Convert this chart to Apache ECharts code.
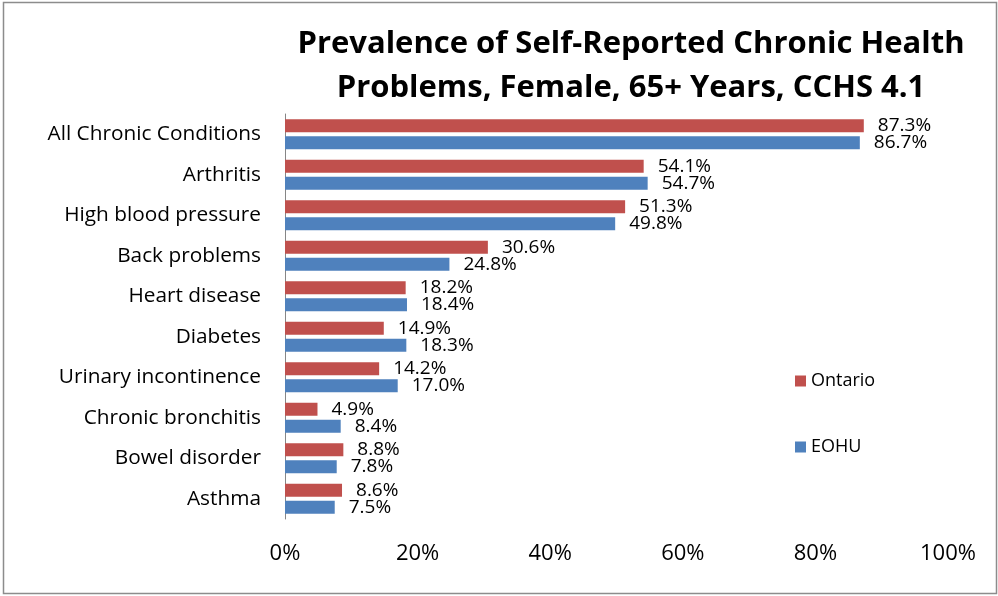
<!DOCTYPE html>
<html>
<head>
<meta charset="utf-8">
<script src="https://cdn.jsdelivr.net/npm/echarts@6/dist/echarts.min.js"></script>
<style>
  html, body { margin: 0; padding: 0; background: #fff; }
  #chart { width: 998px; height: 596px; }
</style>
</head>
<body>
<div id="chart"></div>
<script>
// Chronic conditions, top to bottom
const categories = [
  'All Chronic Conditions', 'Arthritis', 'High blood pressure', 'Back problems',
  'Heart disease', 'Diabetes', 'Urinary incontinence', 'Chronic bronchitis',
  'Bowel disorder', 'Asthma'
];
// Prevalence (%) by region
const ontario = [87.3, 54.1, 51.3, 30.6, 18.2, 14.9, 14.2, 4.9, 8.8, 8.6];
const eohu    = [86.7, 54.7, 49.8, 24.8, 18.4, 18.3, 17.0, 8.4, 7.8, 7.5];
const seriesNames = ['Ontario', 'EOHU'];
const titleText = 'Prevalence of Self-Reported Chronic Health\nProblems, Female, 65+ Years, CCHS 4.1';

const FONT = '"Open Sans", "Liberation Sans", sans-serif';

const valueLabel = {
  show: true,
  position: 'right',
  distance: 14,
  color: '#000',
  fontFamily: FONT,
  fontSize: 19,
  formatter: p => p.value.toFixed(1) + '%'
};

const chart = echarts.init(document.getElementById('chart'), null, { renderer: 'canvas' });
chart.setOption({
  animation: false,
  backgroundColor: '#fff',
  title: {
    text: titleText,
    left: 631,
    top: 22,
    textAlign: 'center',
    padding: 0,
    textStyle: {
      fontFamily: FONT,
      fontWeight: 'bold',
      fontSize: 31,
      lineHeight: 44,
      color: '#000'
    }
  },
  legend: {
    orient: 'vertical',
    left: 795,
    top: 372,
    padding: 0,
    icon: 'rect',
    itemWidth: 11,
    itemHeight: 11,
    itemGap: 48,
    textStyle: { fontFamily: FONT, fontSize: 18, lineHeight: 18, color: '#000' },
    data: seriesNames
  },
  grid: { left: 285, right: 50, top: 114, bottom: 77 },
  xAxis: {
    type: 'value',
    min: 0,
    max: 100,
    interval: 20,
    axisLine: { show: false },
    axisTick: { show: false },
    splitLine: { show: false },
    axisLabel: {
      margin: 24,
      color: '#000',
      fontFamily: FONT,
      fontSize: 22,
      formatter: v => v + '%'
    }
  },
  yAxis: {
    type: 'category',
    data: categories,
    inverse: true,
    axisLine: { show: true, lineStyle: { color: '#868686', width: 1 } },
    axisTick: { show: false },
    axisLabel: {
      margin: 24,
      color: '#000',
      fontFamily: FONT,
      fontSize: 20.8
    }
  },
  series: [
    {
      name: seriesNames[0],
      type: 'bar',
      data: ontario,
      barWidth: 13,
      barGap: '30%',
      itemStyle: { color: '#C0504D' },
      label: valueLabel
    },
    {
      name: seriesNames[1],
      type: 'bar',
      data: eohu,
      barWidth: 13,
      barGap: '30%',
      itemStyle: { color: '#4F81BD' },
      label: valueLabel
    }
  ],
  graphic: [
    {
      type: 'rect',
      shape: { x: 3.5, y: 2.5, width: 993, height: 591 },
      style: { fill: 'none', stroke: '#8c8c8c', lineWidth: 1.5 },
      silent: true
    }
  ]
});
</script>
</body>
</html>
